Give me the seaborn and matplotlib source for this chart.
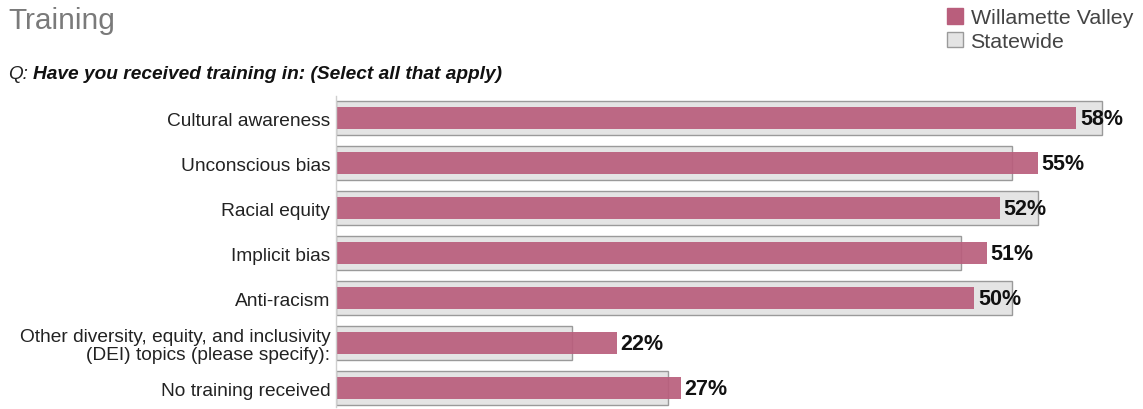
import matplotlib
matplotlib.use("Agg")
import matplotlib.pyplot as plt
import seaborn as sns
import pandas as pd
from matplotlib.patches import Patch

# Survey responses (percent of respondents)
categories = [
    "Cultural awareness",
    "Unconscious bias",
    "Racial equity",
    "Implicit bias",
    "Anti-racism",
    "Other diversity, equity, and inclusivity\n(DEI) topics (please specify):",
    "No training received",
]
willamette = [58, 55, 52, 51, 50, 22, 27]
statewide = [60, 53, 55, 49, 53, 18.5, 26]

df = pd.DataFrame({"category": categories,
                   "willamette": willamette,
                   "statewide": statewide})

sns.set_theme(style="white")
plt.rcParams["font.family"] = ["Liberation Sans", "DejaVu Sans"]

PINK = "#b95e7c"
GRAY_FILL = "#e4e4e4"
GRAY_EDGE = "#9a9a9a"

W, H = 1143, 410
fig = plt.figure(figsize=(W / 100, H / 100), dpi=100)
ax = fig.add_axes([336 / W, 1 - 408 / H, 804 / W, 311 / H])

sns.barplot(data=df, y="category", x="statewide", orient="h", ax=ax,
            color=GRAY_FILL, edgecolor=GRAY_EDGE, linewidth=1.0,
            width=0.76, saturation=1, zorder=1)
sns.barplot(data=df, y="category", x="willamette", orient="h", ax=ax,
            color=PINK, alpha=0.92, width=0.48, saturation=1,
            linewidth=0, zorder=2)

ax.set_xlim(0, 63)
ax.set_ylim(6.42, -0.49)
ax.set_xlabel("")
ax.set_ylabel("")
ax.set_xticks([])
for side in ("top", "right", "bottom"):
    ax.spines[side].set_visible(False)
ax.spines["left"].set_color("#cfcfcf")
ax.spines["left"].set_linewidth(1.0)
ax.tick_params(axis="y", length=0, pad=4, labelsize=13.8, labelcolor="#222222")
for lbl in ax.get_yticklabels():
    lbl.set_horizontalalignment("right")
    lbl.set_multialignment("right")
    lbl.set_linespacing(1.05)

for i, v in enumerate(willamette):
    ax.text(v + 0.3, i, f"{v}%", va="center", ha="left",
            fontsize=15.5, fontweight="bold", color="#111111", zorder=3)

# Header texts
fig.text(8 / W, 1 - 21 / H, "Training", fontsize=21.5, color="#7a7a7a",
         ha="left", va="center")
q = fig.text(8 / W, 1 - 75 / H, "Q:", fontsize=13.6, style="italic",
             color="#222222", ha="left", va="center")
ax.annotate("Have you received training in: (Select all that apply)",
            xy=(1, 0.5), xycoords=q, xytext=(4, 0), textcoords="offset points",
            fontsize=13.8, style="italic", fontweight="bold", color="#111111",
            ha="left", va="center", annotation_clip=False)

handles = [Patch(facecolor=PINK, edgecolor=PINK, label="Willamette Valley"),
           Patch(facecolor=GRAY_FILL, edgecolor=GRAY_EDGE, label="Statewide")]
fig.legend(handles=handles, loc="upper left",
           bbox_to_anchor=(932 / W, 1 + 6 / H), frameon=False,
           fontsize=15.4, handlelength=0.75, handleheight=0.75,
           handletextpad=0.35, labelspacing=0.2, borderpad=0.2,
           labelcolor="#444444")

fig.savefig("out.png", dpi=100)
